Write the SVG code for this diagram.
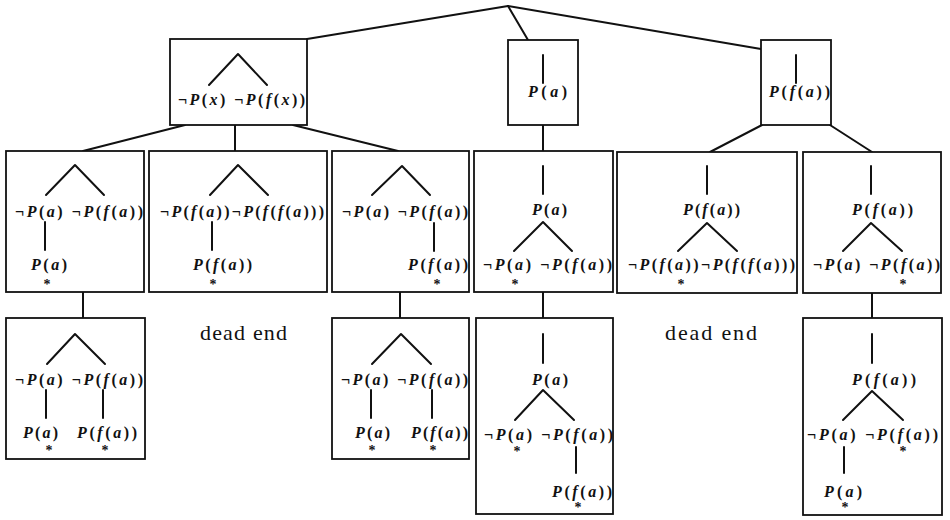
<svg xmlns="http://www.w3.org/2000/svg" width="950" height="520" viewBox="0 0 950 520">
  <style>
    .box { fill: #fff; stroke: #111; stroke-width: 1.8; }
    .edge { fill: none; stroke: #111; stroke-width: 2; stroke-linecap: round; stroke-linejoin: round; }
    .m { font-family: "Liberation Serif", "DejaVu Serif", serif; font-size: 16px; font-weight: bold; fill: #111; }
    .i { font-style: italic; }
    .star { font-family: "Liberation Serif", "DejaVu Serif", serif; font-size: 14px; font-weight: bold; fill: #111; text-anchor: middle; }
    .note { font-family: "Liberation Serif", "DejaVu Serif", serif; font-size: 22px; fill: #111; }
  </style>
  <rect width="950" height="520" fill="#fff"/>

  <!-- tree connectors -->
  <g id="connectors" class="edge">
    <path d="M508,6 L307,39"/>
    <path d="M508,6 L528,40"/>
    <path d="M508,6 L761,49"/>
    <path d="M185,125 L83,151"/>
    <path d="M235,125 L235,151"/>
    <path d="M293,125 L398,151"/>
    <path d="M543,125 L543,151"/>
    <path d="M762,125 L710,152"/>
    <path d="M830,125 L872,152"/>
    <path d="M83,292 L83,318"/>
    <path d="M400,292 L400,318"/>
    <path d="M543,292 L543,318"/>
    <path d="M872,293 L872,318"/>
  </g>

  <!-- level 1 -->
  <g id="n-clause">
    <rect class="box" x="170" y="39" width="137" height="86"/>
    <path class="edge" d="M209,85 L238,54 L267,85"/>
    <text class="m" x="178" y="105" textLength="127" lengthAdjust="spacing">¬<tspan class="i">P</tspan>(<tspan class="i">x</tspan>) ¬<tspan class="i">P</tspan>(<tspan class="i">f</tspan>(<tspan class="i">x</tspan>))</text>
  </g>
  <g id="n-pa">
    <rect class="box" x="508" y="40" width="70" height="85"/>
    <path class="edge" d="M543,55 L543,83"/>
    <text class="m" x="528" y="97" textLength="39" lengthAdjust="spacing"><tspan class="i">P</tspan>(<tspan class="i">a</tspan>)</text>
  </g>
  <g id="n-pfa">
    <rect class="box" x="761" y="40" width="70" height="85"/>
    <path class="edge" d="M796,55 L796,83"/>
    <text class="m" x="769" y="97" textLength="61" lengthAdjust="spacing"><tspan class="i">P</tspan>(<tspan class="i">f</tspan>(<tspan class="i">a</tspan>))</text>
  </g>

  <!-- level 2 -->
  <g id="n-d1">
    <rect class="box" x="6" y="151" width="138" height="141"/>
    <path class="edge" d="M46,195 L75,165 L104,195"/>
    <text class="m" x="15" y="217" textLength="128" lengthAdjust="spacing">¬<tspan class="i">P</tspan>(<tspan class="i">a</tspan>) ¬<tspan class="i">P</tspan>(<tspan class="i">f</tspan>(<tspan class="i">a</tspan>))</text>
    <path class="edge" d="M45,222 L45,250"/>
    <text class="m" x="31" y="270" textLength="36" lengthAdjust="spacing"><tspan class="i">P</tspan>(<tspan class="i">a</tspan>)</text>
    <text class="star" x="47" y="289">*</text>
  </g>
  <g id="n-d2">
    <rect class="box" x="149" y="151" width="178" height="141"/>
    <path class="edge" d="M210,195 L238,165 L268,195"/>
    <text class="m" x="160" y="217" textLength="164" lengthAdjust="spacing">¬<tspan class="i">P</tspan>(<tspan class="i">f</tspan>(<tspan class="i">a</tspan>))¬<tspan class="i">P</tspan>(<tspan class="i">f</tspan>(<tspan class="i">f</tspan>(<tspan class="i">a</tspan>)))</text>
    <path class="edge" d="M212,222 L212,250"/>
    <text class="m" x="193" y="270" textLength="59" lengthAdjust="spacing"><tspan class="i">P</tspan>(<tspan class="i">f</tspan>(<tspan class="i">a</tspan>))</text>
    <text class="star" x="213" y="289">*</text>
  </g>
  <g id="n-d3">
    <rect class="box" x="332" y="151" width="137" height="141"/>
    <path class="edge" d="M372,195 L402,166 L430,195"/>
    <text class="m" x="342" y="217" textLength="126" lengthAdjust="spacing">¬<tspan class="i">P</tspan>(<tspan class="i">a</tspan>) ¬<tspan class="i">P</tspan>(<tspan class="i">f</tspan>(<tspan class="i">a</tspan>))</text>
    <path class="edge" d="M434,223 L434,251"/>
    <text class="m" x="408" y="270" textLength="60" lengthAdjust="spacing"><tspan class="i">P</tspan>(<tspan class="i">f</tspan>(<tspan class="i">a</tspan>))</text>
    <text class="star" x="437" y="289">*</text>
  </g>
  <g id="n-d4">
    <rect class="box" x="474" y="151" width="139" height="141"/>
    <path class="edge" d="M543,166 L543,194"/>
    <text class="m" x="532" y="215" textLength="35" lengthAdjust="spacing"><tspan class="i">P</tspan>(<tspan class="i">a</tspan>)</text>
    <path class="edge" d="M514,251 L543,222 L572,251"/>
    <text class="m" x="483" y="270" textLength="129" lengthAdjust="spacing">¬<tspan class="i">P</tspan>(<tspan class="i">a</tspan>) ¬<tspan class="i">P</tspan>(<tspan class="i">f</tspan>(<tspan class="i">a</tspan>))</text>
    <text class="star" x="515" y="289">*</text>
  </g>
  <g id="n-d5">
    <rect class="box" x="617" y="152" width="180" height="141"/>
    <path class="edge" d="M707,166 L707,194"/>
    <text class="m" x="683" y="215" textLength="57" lengthAdjust="spacing"><tspan class="i">P</tspan>(<tspan class="i">f</tspan>(<tspan class="i">a</tspan>))</text>
    <path class="edge" d="M678,251 L707,223 L737,251"/>
    <text class="m" x="628" y="270" textLength="167" lengthAdjust="spacing">¬<tspan class="i">P</tspan>(<tspan class="i">f</tspan>(<tspan class="i">a</tspan>))¬<tspan class="i">P</tspan>(<tspan class="i">f</tspan>(<tspan class="i">f</tspan>(<tspan class="i">a</tspan>)))</text>
    <text class="star" x="681" y="289">*</text>
  </g>
  <g id="n-d6">
    <rect class="box" x="803" y="152" width="138" height="141"/>
    <path class="edge" d="M871,166 L871,194"/>
    <text class="m" x="852" y="215" textLength="61" lengthAdjust="spacing"><tspan class="i">P</tspan>(<tspan class="i">f</tspan>(<tspan class="i">a</tspan>))</text>
    <path class="edge" d="M843,251 L871,223 L902,251"/>
    <text class="m" x="813" y="270" textLength="127" lengthAdjust="spacing">¬<tspan class="i">P</tspan>(<tspan class="i">a</tspan>) ¬<tspan class="i">P</tspan>(<tspan class="i">f</tspan>(<tspan class="i">a</tspan>))</text>
    <text class="star" x="903" y="289">*</text>
  </g>

  <!-- level 3 -->
  <g id="n-e1">
    <rect class="box" x="6" y="318" width="139" height="141"/>
    <path class="edge" d="M47,364 L75,334 L105,364"/>
    <text class="m" x="15" y="385" textLength="128" lengthAdjust="spacing">¬<tspan class="i">P</tspan>(<tspan class="i">a</tspan>) ¬<tspan class="i">P</tspan>(<tspan class="i">f</tspan>(<tspan class="i">a</tspan>))</text>
    <path class="edge" d="M46,390 L46,418"/>
    <path class="edge" d="M103,390 L103,418"/>
    <text class="m" x="23" y="438" textLength="35" lengthAdjust="spacing"><tspan class="i">P</tspan>(<tspan class="i">a</tspan>)</text>
    <text class="m" x="77" y="438" textLength="60" lengthAdjust="spacing"><tspan class="i">P</tspan>(<tspan class="i">f</tspan>(<tspan class="i">a</tspan>))</text>
    <text class="star" x="49" y="455">*</text>
    <text class="star" x="105" y="455">*</text>
  </g>
  <g id="n-dead1">
    <text class="note" x="200" y="340" textLength="87" lengthAdjust="spacing">dead end</text>
  </g>
  <g id="n-e3">
    <rect class="box" x="332" y="318" width="137" height="141"/>
    <path class="edge" d="M372,364 L401,334 L431,364"/>
    <text class="m" x="341" y="385" textLength="127" lengthAdjust="spacing">¬<tspan class="i">P</tspan>(<tspan class="i">a</tspan>) ¬<tspan class="i">P</tspan>(<tspan class="i">f</tspan>(<tspan class="i">a</tspan>))</text>
    <path class="edge" d="M371,390 L371,418"/>
    <path class="edge" d="M432,390 L432,418"/>
    <text class="m" x="355" y="438" textLength="35" lengthAdjust="spacing"><tspan class="i">P</tspan>(<tspan class="i">a</tspan>)</text>
    <text class="m" x="411" y="438" textLength="57" lengthAdjust="spacing"><tspan class="i">P</tspan>(<tspan class="i">f</tspan>(<tspan class="i">a</tspan>))</text>
    <text class="star" x="372" y="455">*</text>
    <text class="star" x="433" y="455">*</text>
  </g>
  <g id="n-e4">
    <rect class="box" x="476" y="318" width="137" height="196"/>
    <path class="edge" d="M543,334 L543,363"/>
    <text class="m" x="532" y="385" textLength="36" lengthAdjust="spacing"><tspan class="i">P</tspan>(<tspan class="i">a</tspan>)</text>
    <path class="edge" d="M515,420 L543,390 L574,420"/>
    <text class="m" x="484" y="440" textLength="129" lengthAdjust="spacing">¬<tspan class="i">P</tspan>(<tspan class="i">a</tspan>) ¬<tspan class="i">P</tspan>(<tspan class="i">f</tspan>(<tspan class="i">a</tspan>))</text>
    <text class="star" x="517" y="456">*</text>
    <path class="edge" d="M576,447 L576,473"/>
    <text class="m" x="552" y="497" textLength="60" lengthAdjust="spacing"><tspan class="i">P</tspan>(<tspan class="i">f</tspan>(<tspan class="i">a</tspan>))</text>
    <text class="star" x="578" y="512">*</text>
  </g>
  <g id="n-dead2">
    <text class="note" x="665" y="340" textLength="92" lengthAdjust="spacing">dead end</text>
  </g>
  <g id="n-e6">
    <rect class="box" x="803" y="318" width="139" height="197"/>
    <path class="edge" d="M872,334 L872,363"/>
    <text class="m" x="852" y="385" textLength="64" lengthAdjust="spacing"><tspan class="i">P</tspan>(<tspan class="i">f</tspan>(<tspan class="i">a</tspan>))</text>
    <path class="edge" d="M843,420 L872,391 L903,420"/>
    <text class="m" x="807" y="440" textLength="131" lengthAdjust="spacing">¬<tspan class="i">P</tspan>(<tspan class="i">a</tspan>) ¬<tspan class="i">P</tspan>(<tspan class="i">f</tspan>(<tspan class="i">a</tspan>))</text>
    <text class="star" x="903" y="456">*</text>
    <path class="edge" d="M844,447 L844,473"/>
    <text class="m" x="824" y="497" textLength="38" lengthAdjust="spacing"><tspan class="i">P</tspan>(<tspan class="i">a</tspan>)</text>
    <text class="star" x="845" y="512">*</text>
  </g>
</svg>
